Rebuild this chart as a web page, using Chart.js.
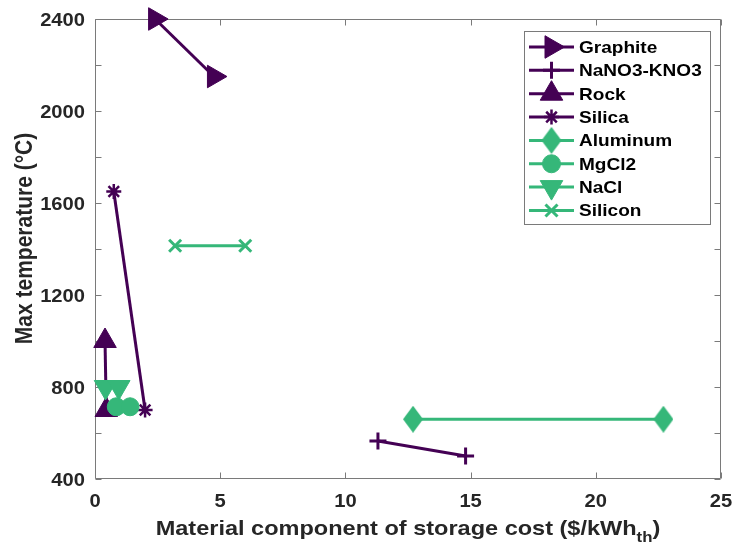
<!DOCTYPE html>
<html>
<head>
<meta charset="utf-8">
<script src="https://cdn.jsdelivr.net/npm/chart.js@4/dist/chart.umd.min.js"></script>
<style>
  html, body { margin: 0; padding: 0; background: #ffffff; }
  canvas { display: block; }
</style>
</head>
<body>
<canvas id="chart" width="735" height="548"></canvas>
<script>
// Storage materials: material cost range ($/kWh_th) against max temperature (°C)
const materials = ['Graphite', 'NaNO3-KNO3', 'Rock', 'Silica', 'Aluminum', 'MgCl2', 'NaCl', 'Silicon'];

const costGraphite = [2.4, 4.75];   const tempGraphite = [2400, 2150];
const costNitrate  = [11.3, 14.8];  const tempNitrate  = [565, 500];
const costRock     = [0.4, 0.45];   const tempRock     = [1000, 700];
const costSilica   = [0.75, 2.0];   const tempSilica   = [1650, 700];
const costAluminum = [12.7, 22.7];  const tempAluminum = [660, 660];
const costMgCl2    = [0.85, 1.4];   const tempMgCl2    = [714, 714];
const costNaCl     = [0.42, 0.95];  const tempNaCl     = [800, 800];
const costSilicon  = [3.2, 6.0];    const tempSilicon  = [1414, 1414];

const xTicks = [0, 5, 10, 15, 20, 25];
const yTicks = [400, 600, 800, 1000, 1200, 1400, 1600, 1800, 2000, 2200, 2400];
const yLabelled = [400, 800, 1200, 1600, 2000, 2400];

const PURPLE = '#440154';
const GREEN = '#35b779';
const INK = '#262626';
const AXIS = '#7a7a7a';
const FONT = '"Liberation Sans", Arial, Helvetica, sans-serif';
const WIDEN = 1.12;   // horizontal widening of all lettering

// tall diamond marker
function makeDiamond(w, h, color) {
  const c = document.createElement('canvas');
  c.width = w; c.height = h;
  const g = c.getContext('2d');
  g.fillStyle = color;
  g.beginPath();
  g.moveTo(w / 2, 0); g.lineTo(w, h / 2); g.lineTo(w / 2, h); g.lineTo(0, h / 2);
  g.closePath(); g.fill();
  return c;
}
const diamond = makeDiamond(20, 27, GREEN);

const costs = [costGraphite, costNitrate, costRock, costSilica, costAluminum, costMgCl2, costNaCl, costSilicon];
const temps = [tempGraphite, tempNitrate, tempRock, tempSilica, tempAluminum, tempMgCl2, tempNaCl, tempSilicon];
const colors = [PURPLE, PURPLE, PURPLE, PURPLE, GREEN, GREEN, GREEN, GREEN];
const markers = [
  { pointStyle: 'triangle', radius: 13, rotation: 90, borderWidth: 1 },
  { pointStyle: 'cross', radius: 8.5, rotation: 0, borderWidth: 3 },
  { pointStyle: 'triangle', radius: 13, rotation: 0, borderWidth: 1 },
  { pointStyle: 'star', radius: 7.5, rotation: 0, borderWidth: 2.5 },
  { pointStyle: diamond, radius: 12, rotation: 0, borderWidth: 0 },
  { pointStyle: 'circle', radius: 9, rotation: 0, borderWidth: 1 },
  { pointStyle: 'triangle', radius: 13, rotation: 180, borderWidth: 1 },
  { pointStyle: 'crossRot', radius: 8.5, rotation: 0, borderWidth: 3 }
];

const datasets = materials.map((name, i) => ({
  label: name,
  data: costs[i].map((c, k) => ({ x: c, y: temps[i][k] })),
  showLine: true,
  borderColor: colors[i],
  backgroundColor: colors[i],
  borderWidth: 3,
  pointStyle: markers[i].pointStyle,
  pointRadius: markers[i].radius,
  pointRotation: markers[i].rotation,
  pointBorderWidth: markers[i].borderWidth,
  pointBackgroundColor: colors[i],
  pointBorderColor: colors[i],
  clip: false,
  order: materials.length - i
}));

// widened text at (x, y); alignment applies to the widened run
function wideText(ctx, text, x, y, size, align, color) {
  ctx.save();
  ctx.font = 'bold ' + size + 'px ' + FONT;
  ctx.fillStyle = color;
  ctx.textAlign = align;
  ctx.textBaseline = 'alphabetic';
  ctx.translate(x, y);
  ctx.scale(WIDEN, 1);
  ctx.fillText(text, 0, 0);
  ctx.restore();
}
function wideWidth(ctx, text, size) {
  ctx.save();
  ctx.font = 'bold ' + size + 'px ' + FONT;
  const w = ctx.measureText(text).width * WIDEN;
  ctx.restore();
  return w;
}

// box, inward ticks, tick labels and axis titles
const framePlugin = {
  id: 'frame',
  beforeDatasetsDraw(chart) {
    const { ctx, chartArea: a, scales: { x, y } } = chart;
    ctx.save();
    ctx.strokeStyle = AXIS;
    ctx.lineWidth = 1;
    const L = Math.round(a.left) + 0.5, R = Math.round(a.right) - 0.5;
    const T = Math.round(a.top) + 0.5, B = Math.round(a.bottom) - 0.5;
    ctx.beginPath();
    ctx.rect(L, T, R - L, B - T);
    const len = 6;
    xTicks.forEach(v => {
      const px = Math.round(x.getPixelForValue(v)) + 0.5;
      ctx.moveTo(px, B); ctx.lineTo(px, B - len);
      ctx.moveTo(px, T); ctx.lineTo(px, T + len);
    });
    yTicks.forEach(v => {
      const py = Math.round(y.getPixelForValue(v)) + 0.5;
      ctx.moveTo(L, py); ctx.lineTo(L + len, py);
      ctx.moveTo(R, py); ctx.lineTo(R - len, py);
    });
    ctx.stroke();
    ctx.restore();

    // tick labels
    const tickSize = 18;
    xTicks.forEach(v => {
      wideText(ctx, String(v), x.getPixelForValue(v), a.bottom + 28, tickSize, 'center', INK);
    });
    yLabelled.forEach(v => {
      wideText(ctx, String(v), a.left - 10, y.getPixelForValue(v) + 6.5, tickSize, 'right', INK);
    });
  },
  afterDraw(chart) {
    const { ctx, chartArea: a } = chart;
    // x title with subscript
    const mainTxt = 'Material component of storage cost ($/kWh';
    const subTxt = 'th';
    const tailTxt = ')';
    const mainSize = 21, subSize = 15;
    const wMain = wideWidth(ctx, mainTxt, mainSize);
    const wSub = wideWidth(ctx, subTxt, subSize);
    const wTail = wideWidth(ctx, tailTxt, mainSize);
    const sx = (a.left + a.right) / 2 - (wMain + wSub + wTail) / 2;
    const base = 535;
    wideText(ctx, mainTxt, sx, base, mainSize, 'left', INK);
    wideText(ctx, subTxt, sx + wMain, base + 7, subSize, 'left', INK);
    wideText(ctx, tailTxt, sx + wMain + wSub, base, mainSize, 'left', INK);

    // y title, rotated; widening applies across the glyph height
    ctx.save();
    ctx.fillStyle = INK;
    ctx.font = 'bold 21px ' + FONT;
    ctx.textAlign = 'center';
    ctx.textBaseline = 'alphabetic';
    ctx.translate(32, 238.5);
    ctx.rotate(-Math.PI / 2);
    ctx.scale(1, WIDEN);
    ctx.fillText('Max temperature (\u00B0C)', 0, 0);
    ctx.restore();
  }
};

// legend: line sample with marker, then name
const legendPlugin = {
  id: 'lineLegend',
  afterDraw(chart) {
    const { ctx } = chart;
    const box = { x: 524, y: 31, w: 186, h: 193 };
    ctx.save();
    ctx.fillStyle = '#ffffff';
    ctx.fillRect(box.x, box.y, box.w, box.h);
    ctx.strokeStyle = AXIS;
    ctx.lineWidth = 1;
    ctx.strokeRect(box.x + 0.5, box.y + 0.5, box.w, box.h);
    const rowH = 23.35;
    materials.forEach((name, i) => {
      const cy = box.y + 16 + i * rowH;
      ctx.strokeStyle = colors[i];
      ctx.fillStyle = colors[i];
      ctx.lineWidth = 3;
      ctx.beginPath();
      ctx.moveTo(529, cy); ctx.lineTo(574, cy);
      ctx.stroke();
      const m = markers[i];
      ctx.lineWidth = m.borderWidth;
      Chart.helpers.drawPoint(ctx, {
        pointStyle: m.pointStyle, radius: m.radius, rotation: m.rotation, borderWidth: m.borderWidth
      }, 551.5, cy);
      wideText(ctx, name, 579, cy + 6, 17, 'left', '#000000');
    });
    ctx.restore();
  }
};

new Chart(document.getElementById('chart'), {
  type: 'scatter',
  data: { datasets },
  options: {
    responsive: false,
    animation: false,
    devicePixelRatio: 1,
    layout: { padding: { top: 19, right: 13, left: 0, bottom: 0 } },
    plugins: { legend: { display: false }, tooltip: { enabled: false } },
    scales: {
      x: {
        type: 'linear', min: 0, max: 25,
        afterFit(s) { s.height = 69; },
        afterBuildTicks(s) { s.ticks = xTicks.map(v => ({ value: v })); },
        grid: { display: false, drawTicks: false },
        border: { display: false },
        ticks: { display: false }
      },
      y: {
        type: 'linear', min: 400, max: 2400,
        afterFit(s) { s.width = 95; },
        afterBuildTicks(s) { s.ticks = yTicks.map(v => ({ value: v })); },
        grid: { display: false, drawTicks: false },
        border: { display: false },
        ticks: { display: false }
      }
    }
  },
  plugins: [framePlugin, legendPlugin]
});
</script>
</body>
</html>
